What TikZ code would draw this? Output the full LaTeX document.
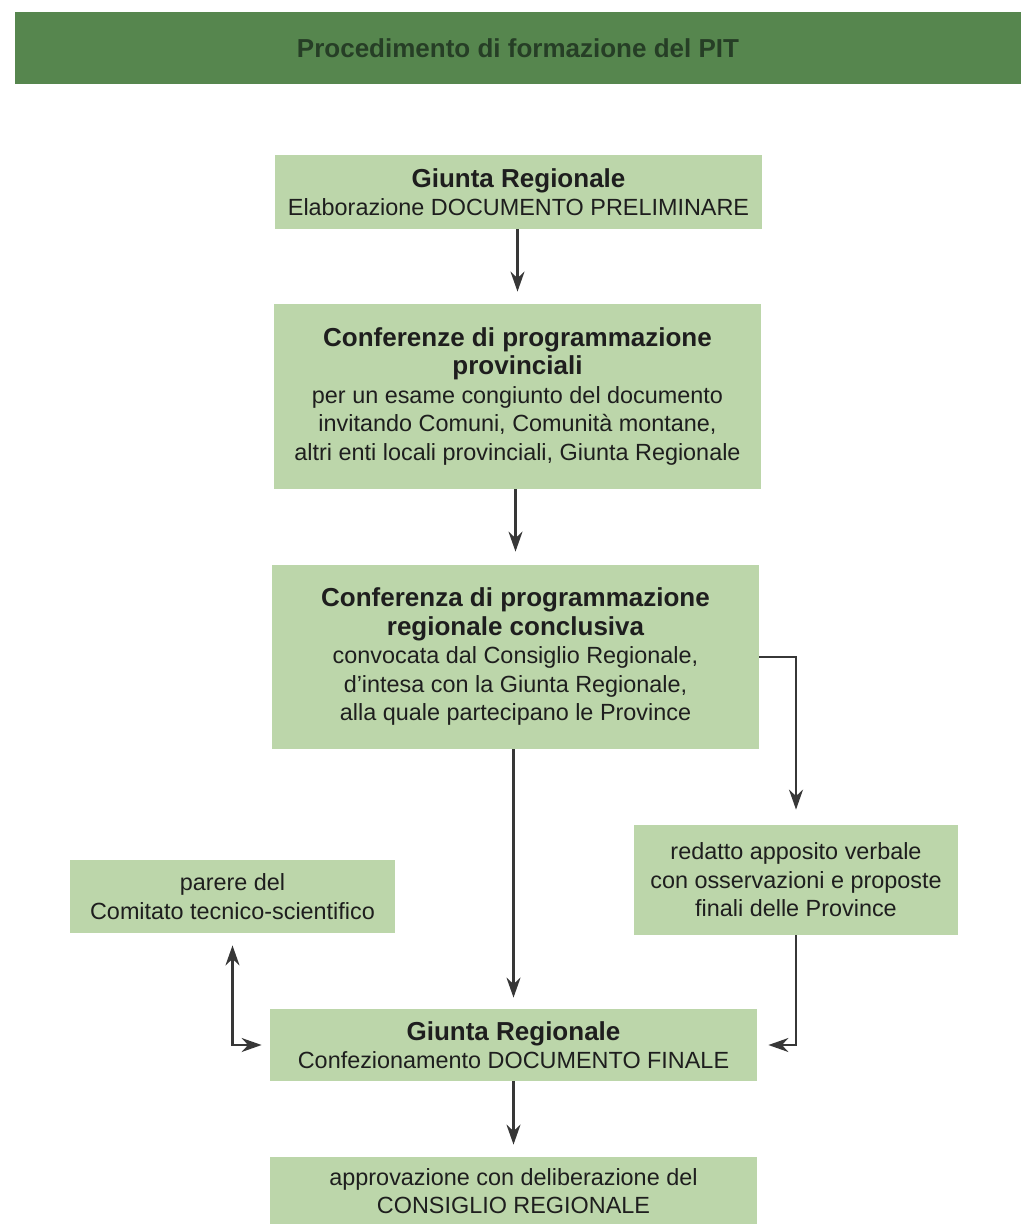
\documentclass[tikz,border=0pt]{standalone}
\usepackage{fontspec}
\setmainfont{Liberation Sans}
\usepackage{tikz}
\usetikzlibrary{positioning,arrows.meta,calc}
\usepackage{xcolor}
\definecolor{bandc}{RGB}{86,134,78}
\definecolor{bandtxt}{RGB}{38,62,38}
\definecolor{boxc}{RGB}{188,214,170}
\definecolor{txtc}{RGB}{30,30,30}
\definecolor{arrowgrey}{RGB}{55,55,55}
\newcommand{\boxtitle}[1]{{\fontsize{13}{15.5}\selectfont\bfseries #1}}

\begin{document}
\begin{tikzpicture}[
  x=0.5pt, y=-0.5pt,
  >={Stealth[length=10pt,width=7pt]},
  blk/.style 2 args={
    rectangle, fill=boxc, draw=none, text=txtc, align=center,
    inner sep=0pt, minimum width=#1, minimum height=#2,
    font=\fontsize{11.7}{14.25}\selectfont
  },
  arr/.style={->, line width=1.1pt, draw=arrowgrey},
]
\useasboundingbox (0,0) rectangle (1023,1224);

% ---- title band ----
\node[rectangle, fill=bandc, minimum width=503pt, minimum height=36pt,
  text=bandtxt, font=\fontsize{13}{15}\selectfont\bfseries] (band) at (518,48)
  {Procedimento di formazione del PIT};

% ---- main column ----
\node[blk={243.5pt}{37pt}] (prelim) at (518.5,192)
  {\boxtitle{Giunta Regionale}\\
   Elaborazione DOCUMENTO PRELIMINARE};

\node[blk={243.5pt}{92.5pt}] (prov) at (517.5,396.5)
  {\boxtitle{Conferenze di programmazione}\\
   \boxtitle{provinciali}\\
   per un esame congiunto del documento\\
   invitando Comuni, Comunità montane,\\
   altri enti locali provinciali, Giunta Regionale};

\node[blk={243.5pt}{92pt}] (concl) at (515.5,657)
  {\boxtitle{Conferenza di programmazione}\\
   \boxtitle{regionale conclusiva}\\
   convocata dal Consiglio Regionale,\\
   d'intesa con la Giunta Regionale,\\
   alla quale partecipano le Province};

\node[blk={243.5pt}{36pt}] (final) at (513.5,1045)
  {\boxtitle{Giunta Regionale}\\
   Confezionamento DOCUMENTO FINALE};

\node[blk={243.5pt}{34pt}] (approv) at (513.5,1191)
  {approvazione con deliberazione del\\
   CONSIGLIO REGIONALE};

% ---- side boxes ----
\node[blk={162pt}{55pt}] (verbale) at (796,880)
  {redatto apposito verbale\\
   con osservazioni e proposte\\
   finali delle Province};

\node[blk={162.5pt}{36.5pt}] (parere) at (232.5,896.5)
  {parere del\\
   Comitato tecnico-scientifico};

% ---- arrows ----
\draw[arr, shorten >=6pt] (prov.north |- prelim.south) -- (prov.north);
\draw[arr, shorten >=6.5pt] (concl.north |- prov.south) -- (concl.north);
\draw[arr, shorten >=5.5pt] (final.north |- concl.south) -- (final.north);
\draw[arr, shorten >=7.5pt] (concl.east) -| (verbale.north);
\draw[arr, shorten >=5.5pt] (verbale.south) |- (final.east);
\draw[arr, <->, shorten <=6pt, shorten >=4pt] (parere.south) |- (final.west);
\draw[arr, shorten >=6pt] (final) -- (approv);

\end{tikzpicture}
\end{document}
